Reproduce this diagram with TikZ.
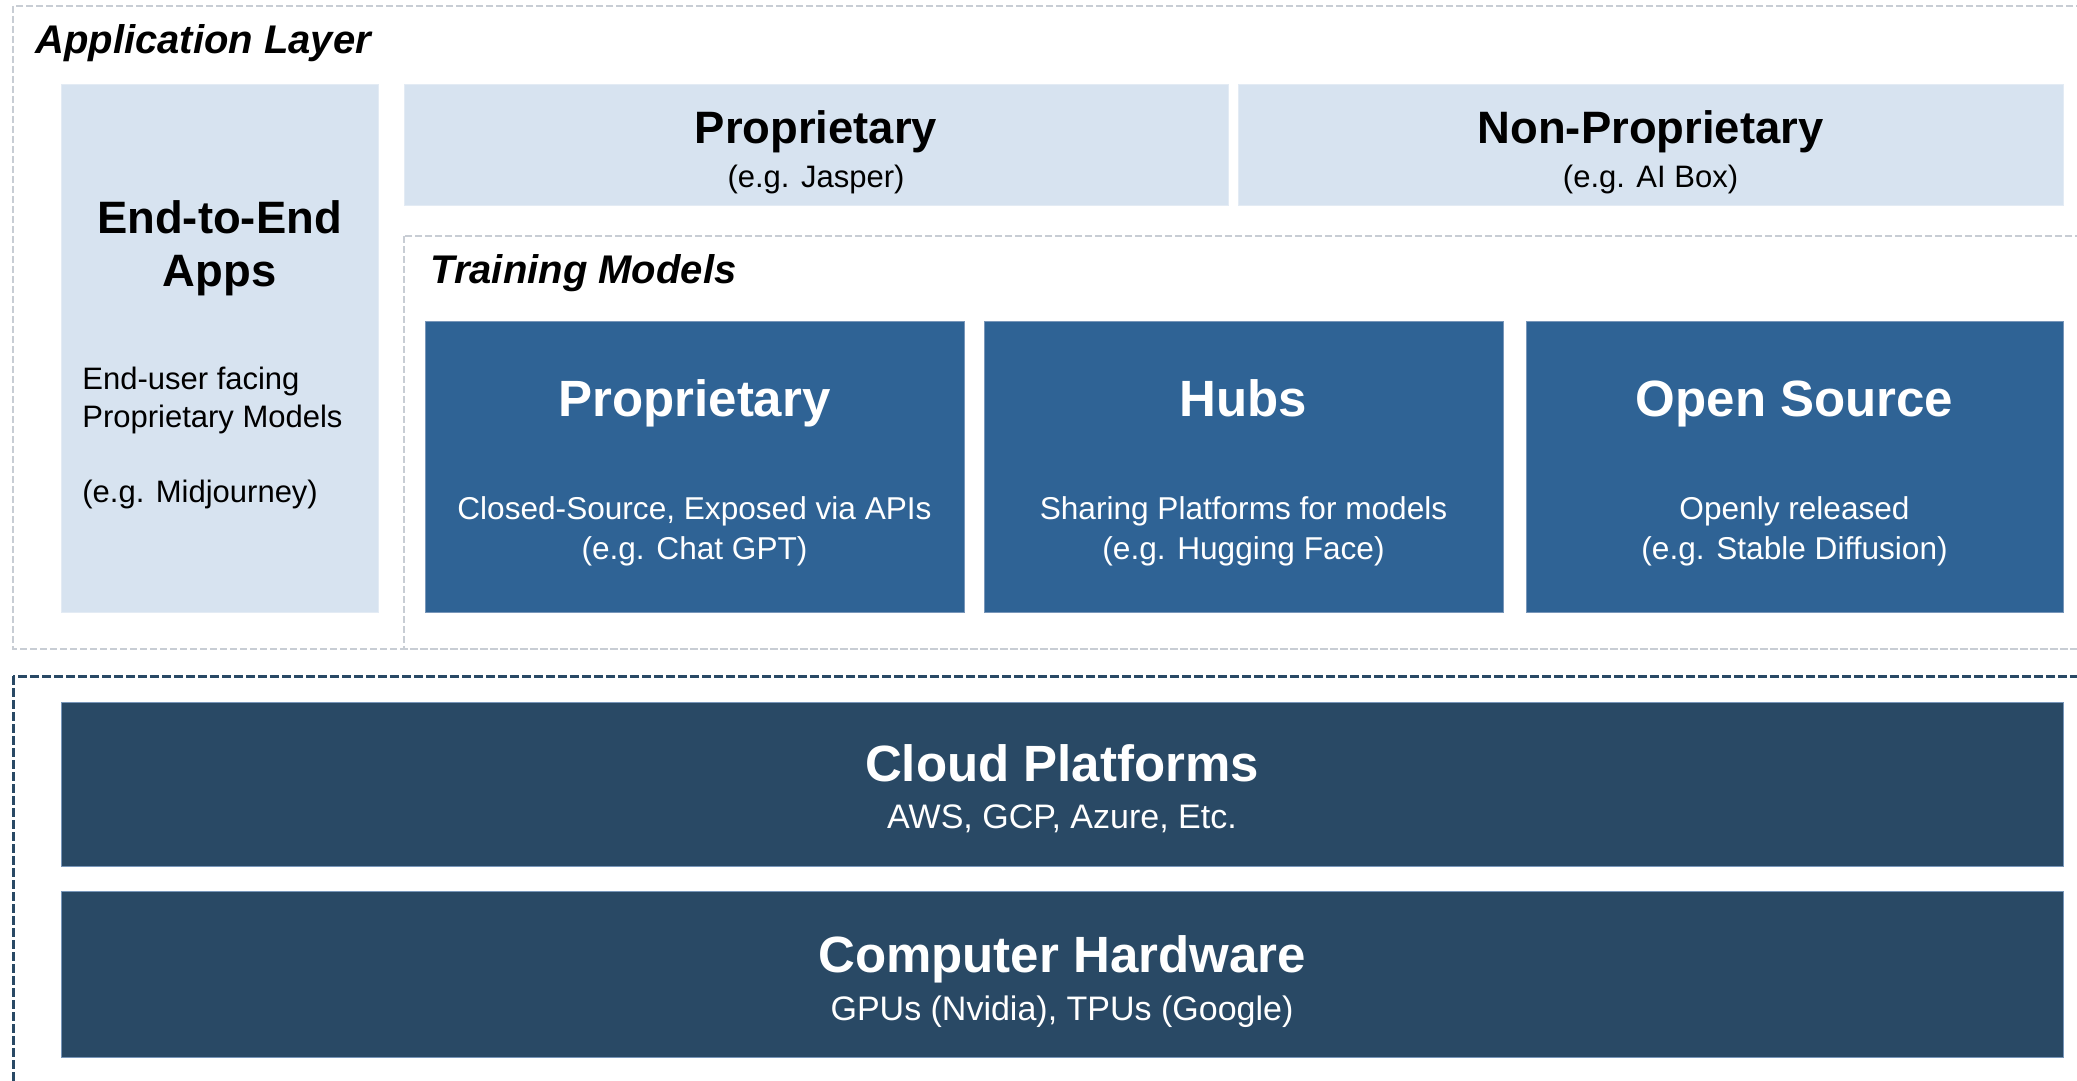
\documentclass[tikz,border=0pt]{standalone}
\usepackage{fontspec}
\setmainfont{Liberation Sans}
\newdimen\px \px=0.5pt
\definecolor{paleblue}{RGB}{215,227,240}
\definecolor{midblue}{RGB}{47,99,149}
\definecolor{navy}{RGB}{41,73,101}
\definecolor{framegray}{RGB}{200,205,212}
\definecolor{edgeblue}{RGB}{120,150,185}
\tikzset{
  box/.style={rectangle, inner sep=0pt, outer sep=0pt, anchor=north west},
  palebox/.style={box, fill=paleblue, draw=paleblue!70!white, line width=1\px},
  modelbox/.style={box, fill=midblue, draw=edgeblue, line width=1\px},
  infrabox/.style={box, fill=navy, draw=edgeblue, line width=1\px},
  layerframe/.style={draw=framegray, line width=2\px, dash pattern=on 7\px off 3\px},
  infraframe/.style={draw=navy, line width=3\px, dash pattern=on 9\px off 3\px},
  heading/.style={anchor=base west, inner sep=0pt, font=\fontsize{20}{24}\selectfont\bfseries\itshape},
  bigtitle/.style={anchor=base, inner sep=0pt, font=\fontsize{25.5}{30}\selectfont\bfseries},
  midtitle/.style={anchor=base, inner sep=0pt, font=\fontsize{22.7}{26.5}\selectfont\bfseries},
  note/.style={anchor=base, inner sep=0pt, font=\fontsize{15.5}{20}\selectfont},
  tilenote/.style={note, text=white, align=center, font=\fontsize{15.8}{20}\selectfont},
  infranote/.style={note, text=white, font=\fontsize{17}{20}\selectfont},
}
\begin{document}
\begin{tikzpicture}[x=1\px, y=-1\px]
\useasboundingbox (0,0) rectangle (2077,1081);
\clip (0,0) rectangle (2077,1081);
\fill[white] (0,0) rectangle (2077,1081);

% layer frames
\coordinate (appNW) at (13,6);
\coordinate (appSE) at (2300,649);
\draw[layerframe] (appNW) rectangle (appSE);
\coordinate (trainNW) at (404,236);
\coordinate (trainSE) at (2300,649);
\draw[layerframe] (trainNW) rectangle (trainSE);
\coordinate (infraNW) at (13,676);
\coordinate (infraSE) at (2300,1300);
\draw[infraframe] (infraNW) rectangle (infraSE);

% layer headings
\node[heading] (applab) at (35,54) {Application Layer};
\node[heading] (trainlab) at (430,283) {Training Models};

% end-to-end apps (multi-line nodes sit on the baseline of their last line)
\node[palebox, minimum width=317\px, minimum height=527\px] (e2e) at (61,85) {};
\node[midtitle, align=center] (e2etitle) at (219.5,286) {End-to-End\\Apps};
\node[note, anchor=base west, align=left] (e2ebody) at (82,502)
  {End-user facing\\[-1.0pt]Proprietary Models\\[17.5pt](e.g. Midjourney)};

% application tier
\node[palebox, minimum width=824\px, minimum height=120\px] (propapp) at (404,85) {};
\node[midtitle] (propapptitle) at (816,143) {Proprietary};
\node[note] (propappsub) at (816,187) {(e.g. Jasper)};

\node[palebox, minimum width=825\px, minimum height=120\px] (nonprop) at (1238,85) {};
\node[midtitle] (nonproptitle) at (1650.5,143) {Non-Proprietary};
\node[note] (nonpropsub) at (1650.5,187) {(e.g. AI Box)};

% training model tiles
\node[modelbox, minimum width=539\px, minimum height=291\px] (propmod) at (425,321) {};
\node[bigtitle, text=white] (propmodtitle) at (694.5,416) {Proprietary};
\node[tilenote] (propmodsub) at (694.5,559) {Closed-Source, Exposed via APIs\\(e.g. Chat GPT)};

\node[modelbox, minimum width=519\px, minimum height=291\px] (hubs) at (984,321) {};
\node[bigtitle, text=white] (hubstitle) at (1243.5,416) {Hubs};
\node[tilenote] (hubssub) at (1243.5,559) {Sharing Platforms for models\\(e.g. Hugging Face)};

\node[modelbox, minimum width=537\px, minimum height=291\px] (opensrc) at (1526,321) {};
\node[bigtitle, text=white] (opensrctitle) at (1794.5,416) {Open Source};
\node[tilenote] (opensrcsub) at (1794.5,559) {Openly released\\(e.g. Stable Diffusion)};

% infrastructure
\node[infrabox, minimum width=2002\px, minimum height=164\px] (cloud) at (61,702) {};
\node[bigtitle, text=white] (cloudtitle) at (1062,781) {Cloud Platforms};
\node[infranote] (cloudsub) at (1062,828) {AWS, GCP, Azure, Etc.};

\node[infrabox, minimum width=2002\px, minimum height=166\px] (hw) at (61,891) {};
\node[bigtitle, text=white] (hwtitle) at (1062,972) {Computer Hardware};
\node[infranote] (hwsub) at (1062,1020) {GPUs (Nvidia), TPUs (Google)};
\end{tikzpicture}
\end{document}
